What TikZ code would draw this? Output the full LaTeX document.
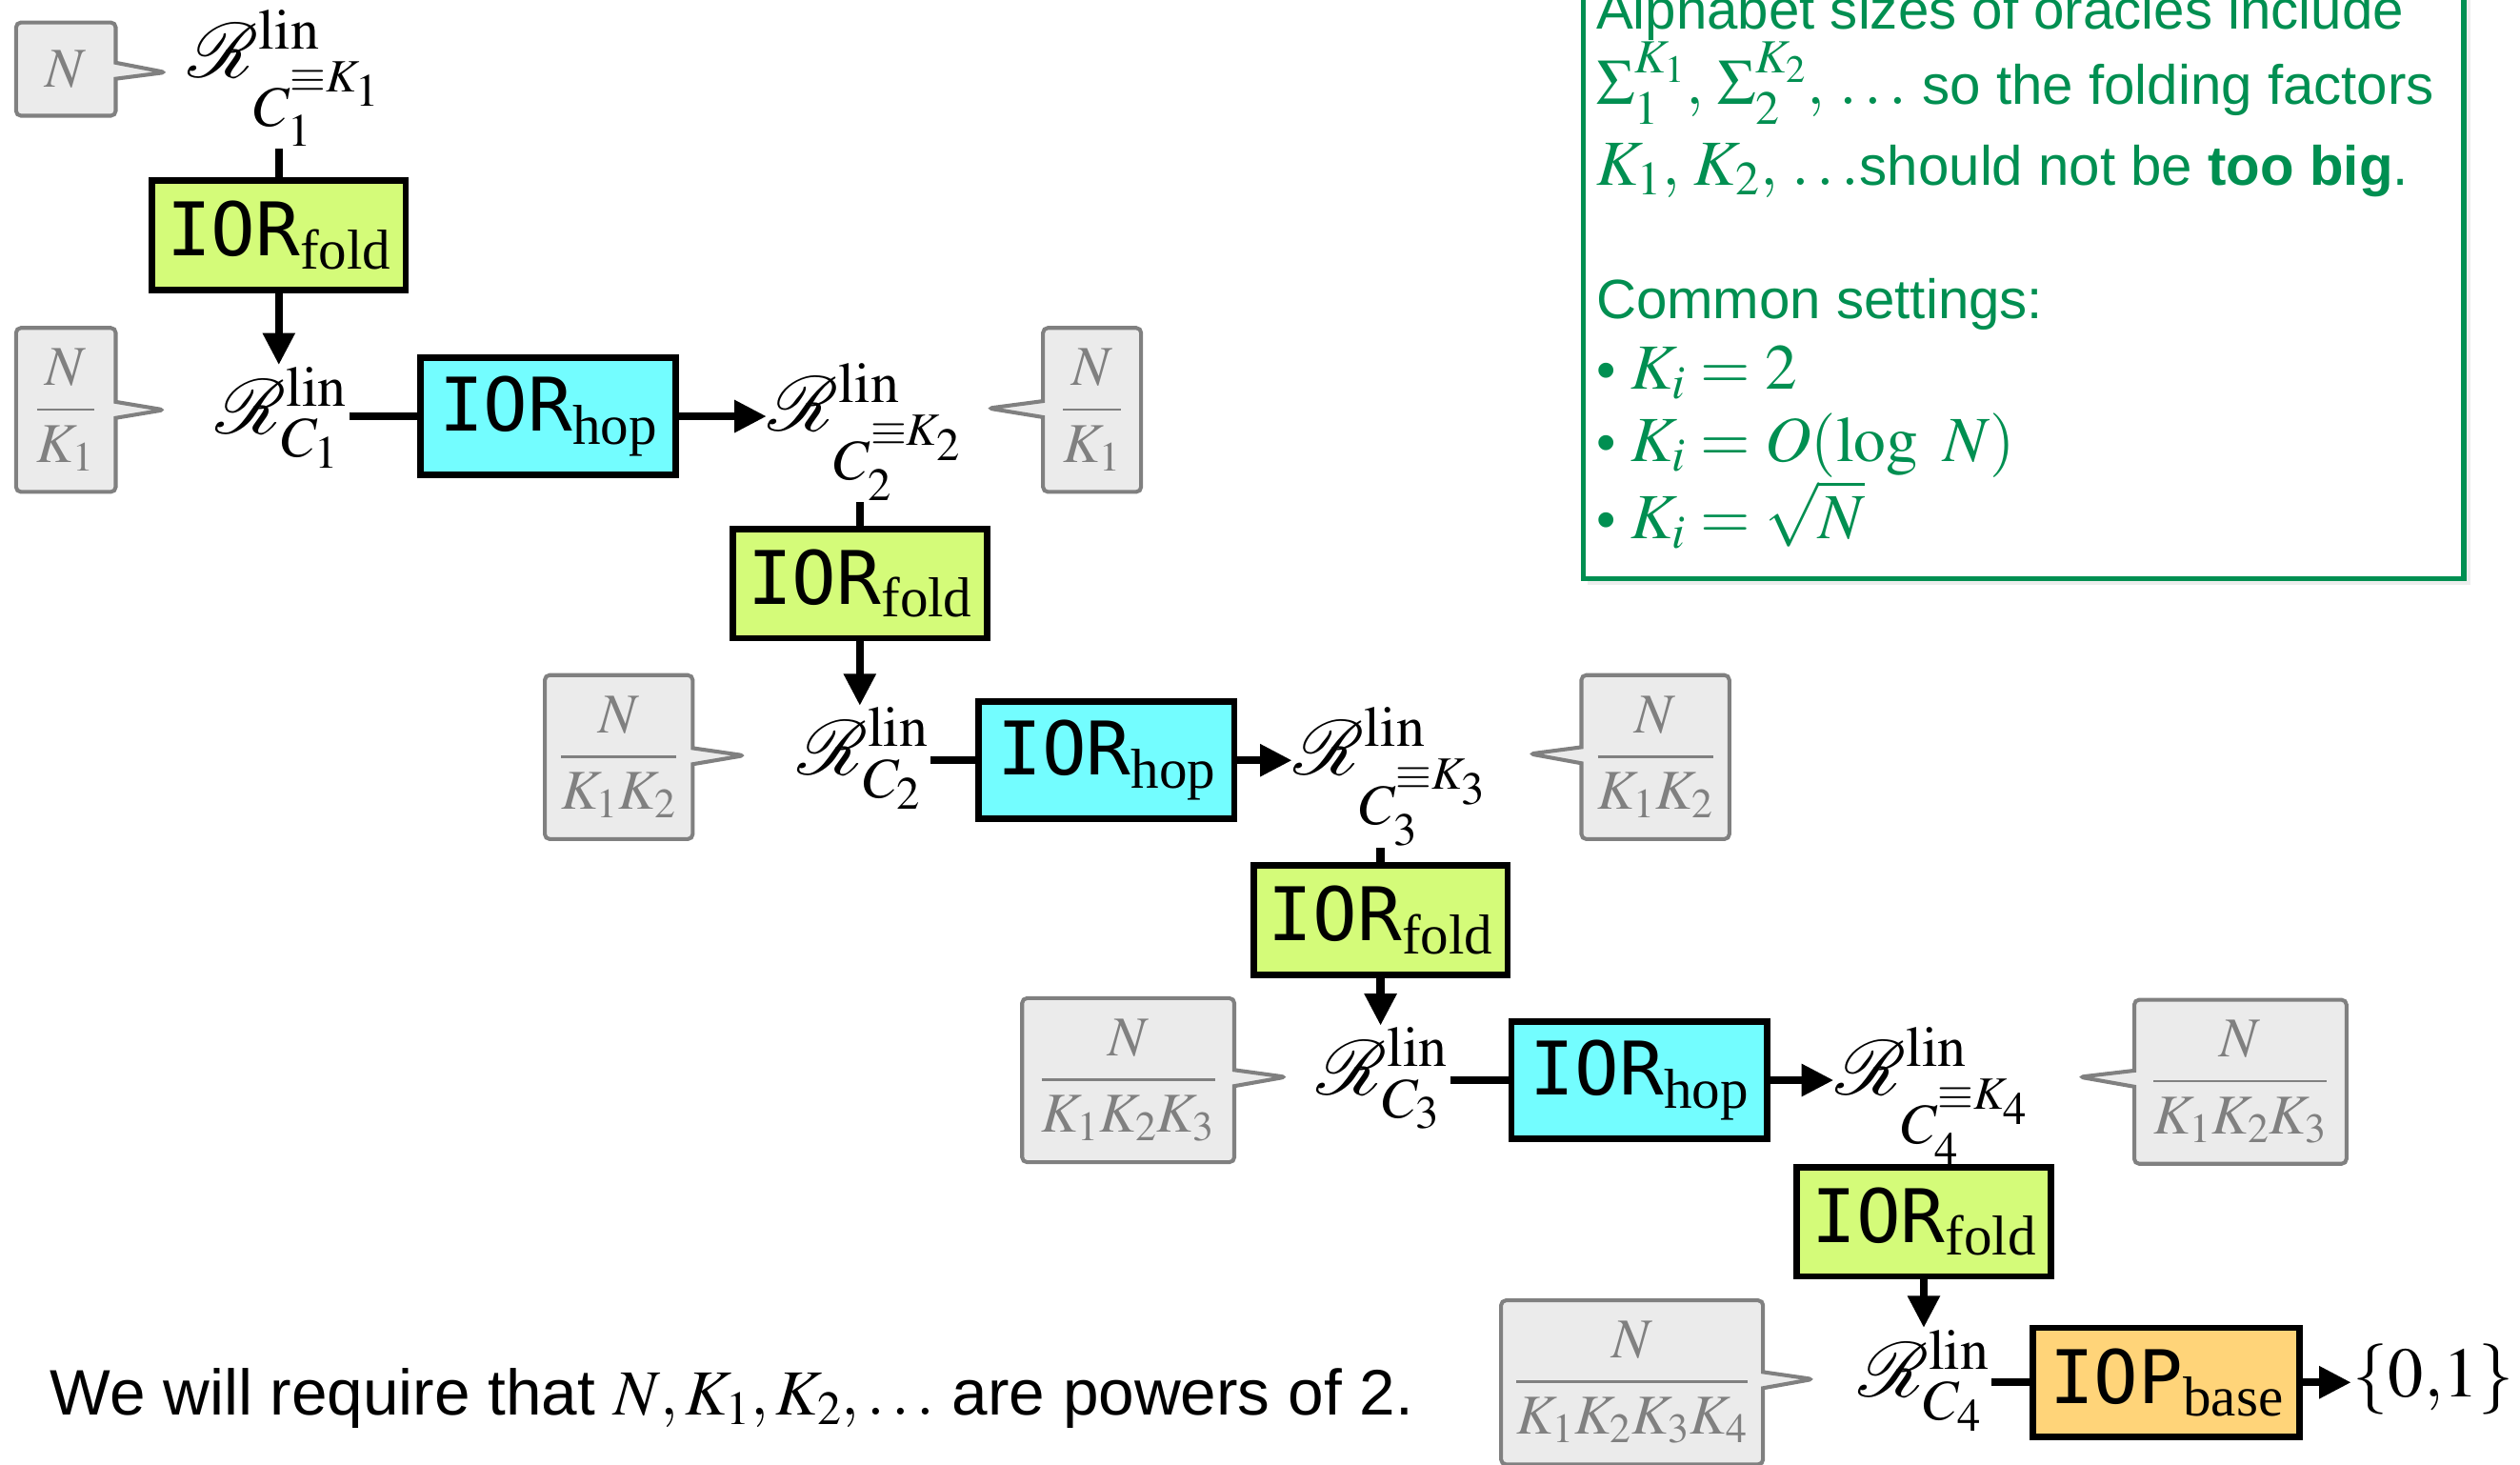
\documentclass[tikz,border=0pt]{standalone}
\usepackage{mathptmx}
\usepackage{mathrsfs}
\usepackage[no-math]{fontspec}
\setmainfont{Liberation Sans}
\newfontfamily\iorfont{DejaVu Sans Mono}
\newfontfamily\subfont{Liberation Serif}
\DeclareFontFamily{U}{rsfs}{\skewchar\font127 }
\DeclareFontShape{U}{rsfs}{m}{n}{<-6> rsfs5 <6-8> rsfs7 <8-> rsfs10}{}
\usetikzlibrary{calc, arrows.meta, shapes.callouts}
\definecolor{Honeydew}{HTML}{D4FB79}
\definecolor{Ice}{HTML}{73FDFF}
\definecolor{Cantaloupe}{HTML}{FFD479}
\definecolor{Moss}{HTML}{008F51}
\definecolor{GFill}{HTML}{EBEBEB}
\definecolor{GLine}{HTML}{808080}

\newcommand{\ior}[2]{{\iorfont #1}\raisebox{-8pt}{\fontsize{35}{36}\subfont #2}}
\newcommand{\Rlin}[1]{\mathscr{R}^{\mathrm{lin}}_{#1}}
\newcommand{\mth}[1]{{\fontsize{40}{44}\selectfont$#1$}}

\tikzset{
    flow/.style={line width=5pt},
    arr/.style={line width=5pt, -{Triangle[length=20pt, width=19pt]}},
    foldbox/.style={draw, line width=4pt, fill=Honeydew, minimum width=158pt,
        minimum height=68pt, inner sep=0pt, font=\fontsize{46}{50}\selectfont},
    hopbox/.style={foldbox, fill=Ice, minimum width=159pt, minimum height=73pt},
    basebox/.style={foldbox, fill=Cantaloupe, minimum width=166pt},
    rlin/.style={inner sep=1pt, anchor=base west, font=\fontsize{48}{50}\selectfont},
    sizebox/.style={rectangle callout, draw=GLine, fill=GFill, text=GLine,
        line width=2.4pt, rounded corners=3pt, callout pointer width=10pt,
        inner sep=0pt, minimum height=102pt, font=\fontsize{35}{40}\selectfont},
    tip/.style={callout absolute pointer={#1}},
    note/.style={anchor=base west, inner sep=0pt, text=Moss, font=\fontsize{34.5}{40}\selectfont},
}

\begin{document}
\begin{tikzpicture}[x=1pt, y=-1pt]

    \useasboundingbox (0,0) rectangle (1568,911);

    % Oracles
    \node[rlin] (Rk1) at (116,48)  {$\Rlin{C_1^{\equiv K_1}}$};
    \node[rlin] (R1)  at (133,270) {$\Rlin{C_1}$};
    \node[rlin] (Rk2) at (477,268) {$\Rlin{C_2^{\equiv K_2}}$};
    \node[rlin] (R2)  at (495,482) {$\Rlin{C_2}$};
    \node[rlin] (Rk3) at (804,482) {$\Rlin{C_3^{\equiv K_3}}$};
    \node[rlin] (R3)  at (818,681) {$\Rlin{C_3}$};
    \node[rlin] (Rk4) at (1141,681) {$\Rlin{C_4^{\equiv K_4}}$};
    \node[rlin] (R4)  at (1155,869) {$\Rlin{C_4}$};
    \node[rlin, font=\fontsize{44}{48}\selectfont] (bits) at (1463,869) {$\{0{,}1\}$};

    % Reductions
    \node[foldbox] (fold1) at (173.5,146.5) {\ior{IOR}{fold}};
    \node[foldbox] (fold2) at (535,363)     {\ior{IOR}{fold}};
    \node[foldbox] (fold3) at (859,572.5)   {\ior{IOR}{fold}};
    \node[foldbox] (fold4) at (1197,760)    {\ior{IOR}{fold}};
    \node[hopbox] (hop1) at (341,259)   {\ior{IOR}{hop}};
    \node[hopbox] (hop2) at (688.5,473) {\ior{IOR}{hop}};
    \node[hopbox] (hop3) at (1020,672)  {\ior{IOR}{hop}};
    \node[basebox] (base) at (1348,860) {\ior{IOP}{base}};

    % Folds
    \foreach \i in {1,...,4} {
        \draw[flow] (fold\i.north) -- (fold\i.north |- Rk\i.south);
        \draw[arr] (fold\i.south) -- (fold\i.south |- R\i.north);
    }

    % Hops
    \foreach \i/\j in {1/2, 2/3, 3/4} {
        \draw[flow] (R\i.east |- hop\i) -- (hop\i.west);
        \draw[arr] (hop\i.east) -- (hop\i.east -| Rk\j.west);
    }
    \draw[flow] (R4.east |- base) -- (base.west);
    \draw[arr] (base.east) -- (base.east -| bits.west);

    % Sizes
    \node[sizebox, minimum width=62pt, minimum height=58pt, tip={(103,45)}] (g0) at (41,43) {$N$};
    \node[sizebox, minimum width=62pt,  tip={(102,255)}]  (g1l) at (41,255)    {$\displaystyle\frac{N}{K_1}$};
    \node[sizebox, minimum width=61pt,  tip={(615,254)}]  (g1r) at (679.5,255) {$\displaystyle\frac{N}{K_1}$};
    \node[sizebox, minimum width=92pt,  tip={(463,470)}]  (g2l) at (385,471)   {$\displaystyle\frac{N}{K_1K_2}$};
    \node[sizebox, minimum width=92pt,  tip={(952,469)}]  (g2r) at (1030,471)  {$\displaystyle\frac{N}{K_1K_2}$};
    \node[sizebox, minimum width=132pt, tip={(800,670)}]  (g3l) at (702,672)   {$\displaystyle\frac{N}{K_1K_2K_3}$};
    \node[sizebox, minimum width=132pt, tip={(1294,670)}] (g3r) at (1394,673)  {$\displaystyle\frac{N}{K_1K_2K_3}$};
    \node[sizebox, minimum width=163pt, tip={(1128,858)}] (g4)  at (1015.5,860) {$\displaystyle\frac{N}{K_1K_2K_3K_4}$};

    \node[anchor=base west, inner sep=0pt, font=\fontsize{40}{48}\selectfont] (req) at (31,880)
        {We will require that $N, K_1, K_2, \dots$ are powers of 2.};

    % Remarks
    \fill[black, opacity=0.07] (988,-20) rectangle (1537,364);
    \draw[Moss, line width=3pt, fill=white] (985,-20) rectangle (1533,360);
    \node[note] (n1) at (993,18)  {Alphabet sizes of oracles include};
    \node[note] (n2) at (993,65)  {\mth{\Sigma_1^{K_1},\,\Sigma_2^{K_2},\,\dots} so the folding factors};
    \node[note] (n3) at (993,115) {\mth{K_1,\,K_2,\,\dots}should not be \textbf{too big}.};
    \node[note] (n4) at (993,198) {Common settings:};
    \node[note] (n5) at (993,242) {\textbullet\ \mth{K_i = 2}};
    \node[note] (n6) at (993,287) {\textbullet\ \mth{K_i = O(\log\ N)}};
    \node[note] (n7) at (993,335) {\textbullet\ \mth{K_i = \sqrt{N}}};

\end{tikzpicture}
\end{document}
